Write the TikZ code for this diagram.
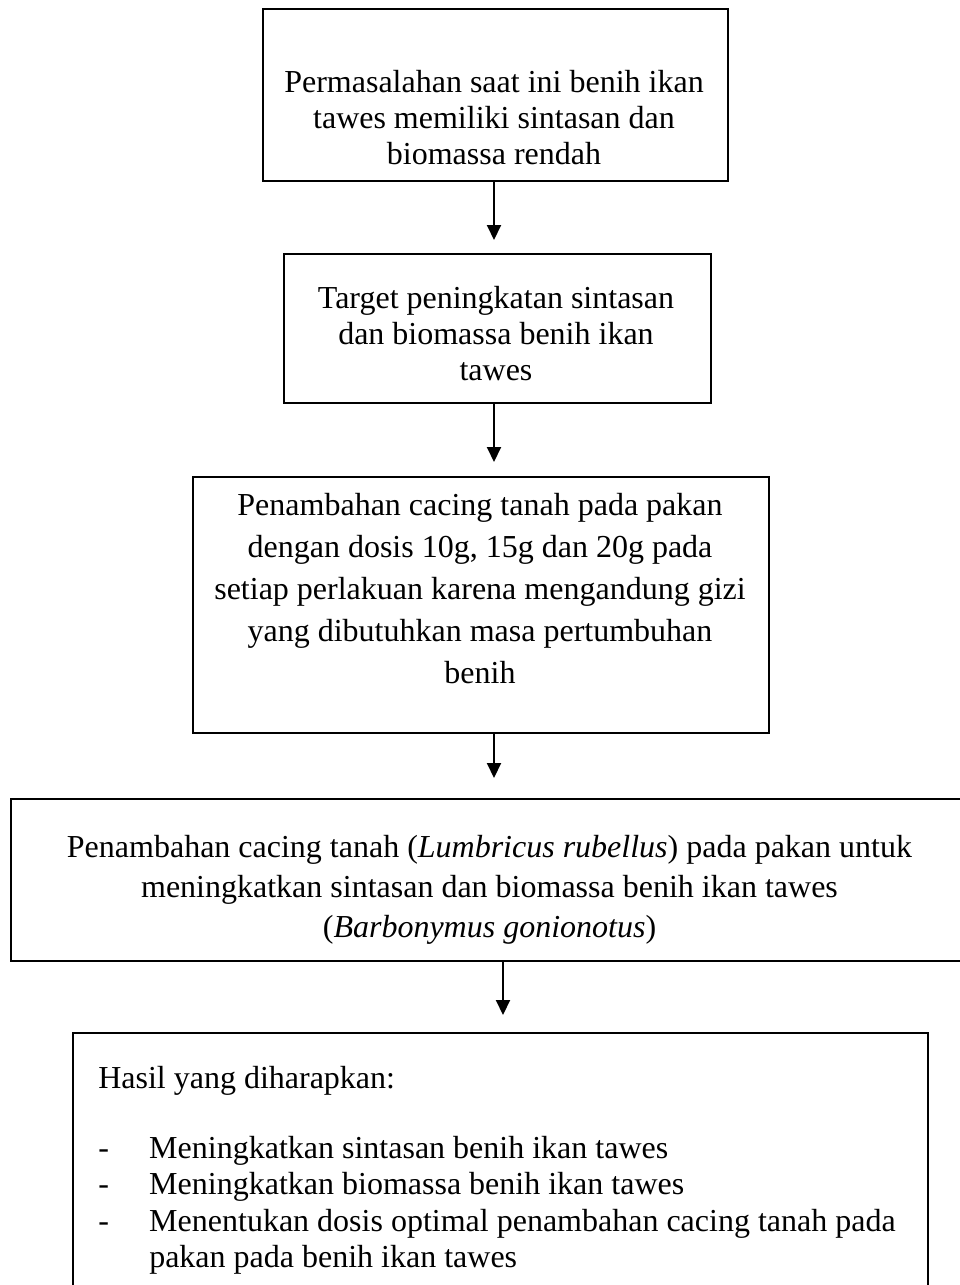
\documentclass[tikz,border=0pt]{standalone}
\usepackage{fontspec}
\setmainfont{Liberation Serif}
\usetikzlibrary{arrows.meta,calc}
\newcommand\px[1]{#1*0.75pt}
\begin{document}
\begin{tikzpicture}[x=0.75pt,y=-0.75pt,
  box/.style={draw, line width=1.5pt, inner sep=0pt, anchor=north west},
  txt/.style={anchor=base, inner sep=0pt, font=\fontsize{24}{27}\selectfont},
  arr/.style={line width=1.5pt, -{Triangle[length=11.25pt,width=10.5pt]}}]
\useasboundingbox (0,0) rectangle (960,1285);
% boxes
\node[box, minimum width=\px{465}, minimum height=\px{172}] (b1) at (262,8) {};
\node[box, minimum width=\px{427}, minimum height=\px{149}] (b2) at (283,253) {};
\node[box, minimum width=\px{576}, minimum height=\px{256}] (b3) at (192,476) {};
\node[box, minimum width=\px{960}, minimum height=\px{162}] (b4) at (10,798) {};
\node[box, minimum width=\px{855}, minimum height=\px{300}] (b5) at (72,1032) {};
% texts
\node[txt] (t1) at (494,92) {\begin{tabular}[t]{@{}c@{}}Permasalahan saat ini benih ikan\\ tawes memiliki sintasan dan\\ biomassa rendah\end{tabular}};
\node[txt] (t2) at (496,308) {\begin{tabular}[t]{@{}c@{}}Target peningkatan sintasan\\ dan biomassa benih ikan\\ tawes\end{tabular}};
\node[txt, font=\fontsize{24}{31.5}\selectfont] (t3) at (480,515) {\begin{tabular}[t]{@{}c@{}}Penambahan cacing tanah pada pakan\\ dengan dosis 10g, 15g dan 20g pada\\ setiap perlakuan karena mengandung gizi\\ yang dibutuhkan masa pertumbuhan\\ benih\end{tabular}};
\node[txt, font=\fontsize{24}{30}\selectfont] (t4) at (489.5,857) {\begin{tabular}[t]{@{}c@{}}Penambahan cacing tanah (\textit{Lumbricus rubellus}) pada pakan untuk\\ meningkatkan sintasan dan biomassa benih ikan tawes\\ (\textit{Barbonymus gonionotus})\end{tabular}};
\node[txt, anchor=base west, font=\fontsize{24}{27.4}\selectfont] (t5) at (98,1088) {\begin{tabular}[t]{@{}p{38.25pt}@{}l@{}}\multicolumn{2}{@{}l@{}}{Hasil yang diharapkan:}\\[25.1pt]
-& Meningkatkan sintasan benih ikan tawes\\
-& Meningkatkan biomassa benih ikan tawes\\
-& Menentukan dosis optimal penambahan cacing tanah pada\\
 & pakan pada benih ikan tawes\end{tabular}};
% arrows
\coordinate (ax) at (494,0);
\coordinate (ax4) at (503,0);
\draw[arr, shorten >=9.75pt] (b1.south -| ax) -- (b2.north -| ax);
\draw[arr, shorten >=10.5pt] (b2.south -| ax) -- (b3.north -| ax);
\draw[arr, shorten >=15pt] (b3.south -| ax) -- (b4.north -| ax);
\draw[arr, shorten >=12.75pt] (b4.south -| ax4) -- (b5.north -| ax4);
\end{tikzpicture}
\end{document}
